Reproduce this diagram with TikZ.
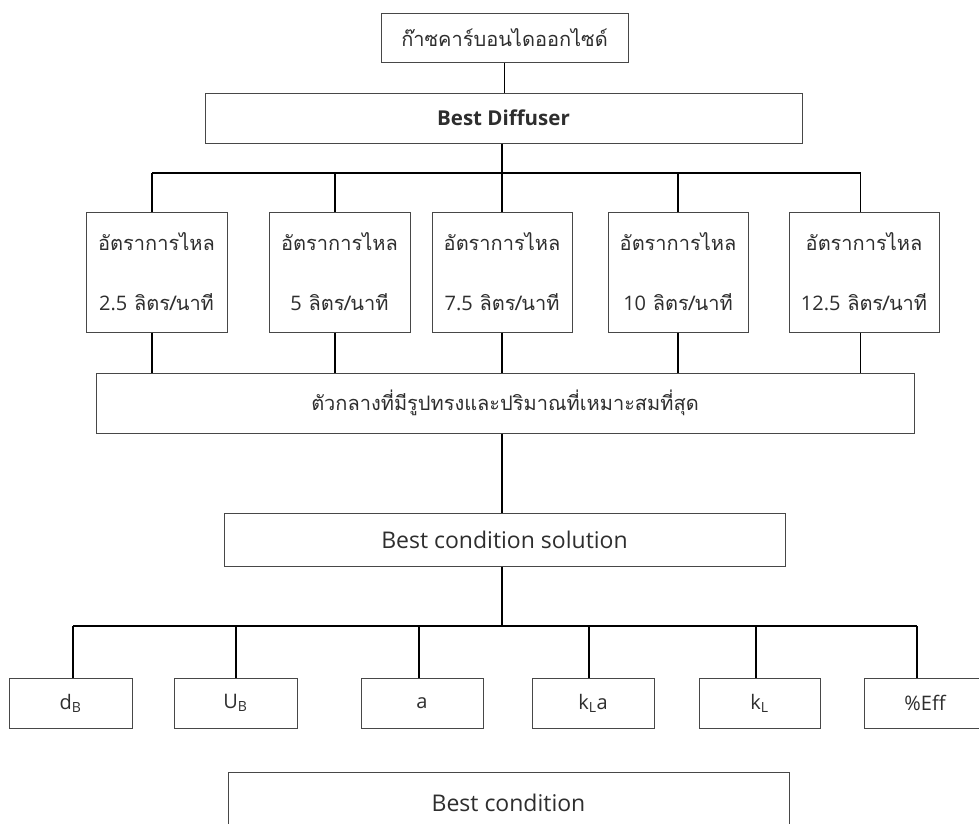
\documentclass[tikz,border=0pt]{standalone}
\usepackage{fontspec}
\setmainfont{Open Sans}
\newfontfamily\thai[Script=Thai]{Loma}
\begin{document}
\begin{tikzpicture}[x=1pt,y=-1pt,
  box/.style={draw=black!72, line width=1pt, rectangle, inner sep=0pt, text=black!82},
  wh/.style 2 args={minimum width=#1pt, minimum height=#2pt},
  conn/.style={line width=1.8pt, black},
  thaitext/.style={font=\thai\fontsize{20}{24}\selectfont},
  flowtext/.style={font=\thai\fontsize{20}{60}\selectfont, align=center},
  latin/.style={font=\fontsize{23}{27}\selectfont},
  param/.style={font=\fontsize{20}{24}\selectfont}
]
\useasboundingbox (0,0) rectangle (979,823);
\fill[white] (0,0) rectangle (979,823);

% gas source and diffuser
\node[box, wh={247}{49}, thaitext] (gas) at (504.5,37.5) {ก๊าซคาร์บอนไดออกไซด์};
\node[box, wh={597}{50}, font=\bfseries\fontsize{20.5}{24}\selectfont] (diff) at (503.5,118) {Best Diffuser};

% flow rates
\node[box, wh={141}{120}, flowtext] (f1) at (156.5,272) {อัตราการไหล\\{\rmfamily 2.5} ลิตร/นาที};
\node[box, wh={141}{120}, flowtext] (f2) at (339.5,272) {อัตราการไหล\\{\rmfamily 5} ลิตร/นาที};
\node[box, wh={140}{120}, flowtext] (f3) at (502,272) {อัตราการไหล\\{\rmfamily 7.5} ลิตร/นาที};
\node[box, wh={140}{120}, flowtext] (f4) at (678,272) {อัตราการไหล\\{\rmfamily 10} ลิตร/นาที};
\node[box, wh={150}{120}, flowtext] (f5) at (864,272) {อัตราการไหล\\{\rmfamily 12.5} ลิตร/นาที};

% medium and solution
\node[box, wh={818}{60}, thaitext] (mid) at (505,403) {ตัวกลางที่มีรูปทรงและปริมาณที่เหมาะสมที่สุด};
\node[box, wh={561}{53}, latin] (sol) at (504.5,539.5) {Best condition solution};

% measured parameters
\node[box, wh={123}{50}, param] (b1) at (70.5,703) {d\textsubscript{B}};
\node[box, wh={123}{50}, param] (b2) at (235.5,703) {U\textsubscript{B}};
\node[box, wh={122}{50}, param] (b3) at (422,703) {a};
\node[box, wh={122}{50}, param] (b4) at (593,703) {k\textsubscript{L}a};
\node[box, wh={121}{50}, param] (b5) at (759.5,703) {k\textsubscript{L}};
\node[box, wh={122}{50}, param] (b6) at (925,703) {\%Eff};

\node[box, wh={561}{62}, latin] (best) at (508.5,803) {Best condition};

% bus lines
\coordinate (busA) at (0,173);
\coordinate (busB) at (0,626);

\draw[conn] (gas.south) -- (gas.south |- diff.north);
\draw[conn] ([xshift=-1.5pt]diff.south) -- ([xshift=-1.5pt]diff.south |- busA);
\draw[conn] ([xshift=-4.5pt]f1.north |- busA) -- ([xshift=-3.5pt]f5.north |- busA);
\foreach \n/\s in {f1/-4.5, f2/-4.5, f3/0, f4/0, f5/-3.5}{
  \draw[conn] ([xshift=\s pt]\n.north |- busA) -- ([xshift=\s pt]\n.north);
  \draw[conn] ([xshift=\s pt]\n.south) -- ([xshift=\s pt]\n.south |- mid.north);
}
\draw[conn] ([xshift=-3pt]mid.south) -- ([xshift=-3pt]mid.south |- sol.north);

\draw[conn] ([xshift=-2.5pt]sol.south) -- ([xshift=-2.5pt]sol.south |- busB);
\draw[conn] ([xshift=2.5pt]b1.north |- busB) -- ([xshift=-8pt]b6.north |- busB);
\foreach \n/\s in {b1/2.5, b2/0.5, b3/-3, b4/-4, b5/-3.5, b6/-8}{
  \draw[conn] ([xshift=\s pt]\n.north |- busB) -- ([xshift=\s pt]\n.north);
}
\end{tikzpicture}
\end{document}
